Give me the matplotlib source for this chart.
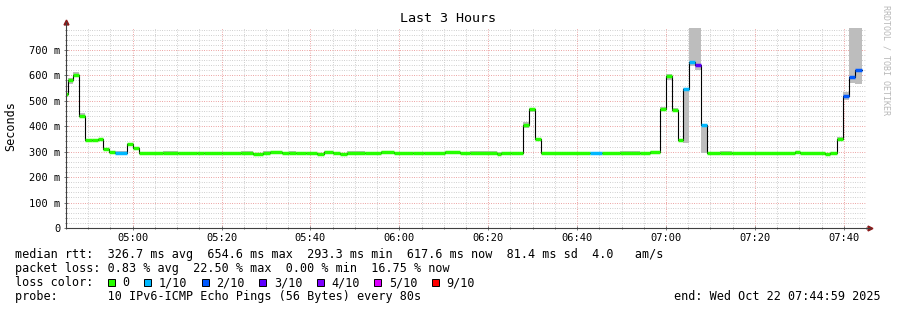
import numpy as np
import matplotlib
matplotlib.use("Agg")
import matplotlib.pyplot as plt
from matplotlib.ticker import MultipleLocator, FixedLocator
from matplotlib.patches import Rectangle

# minutes since 04:45:00, one entry per consolidated step
seg_start = [0.0, 0.34, 1.58, 2.93, 4.28, 5.85, 7.2, 8.33, 9.68, 11.03,
             13.73, 15.08, 16.43, 21.83, 25.2, 29.48, 31.05, 35.1, 39.38, 42.08,
             44.33, 45.9, 48.6, 50.18, 51.75, 54.0, 56.48, 58.05, 60.08, 61.65,
             63.23, 67.28, 70.88, 73.8, 78.08, 80.55, 85.28, 88.65, 90.9, 96.98,
             97.88, 100.13, 102.83, 104.18, 105.53, 106.88, 117.9, 120.6, 124.65, 129.15,
             131.4, 133.65, 135.0, 136.35, 137.7, 138.83, 140.18, 141.53, 142.88, 144.23,
             147.15, 149.85, 164.03, 165.15, 170.78, 171.9, 173.48, 174.83, 176.18, 177.53]
last_end = 179.1

# median rtt (ms)
median = [525, 580, 600, 440, 345, 344, 348, 312, 298, 294,
          330, 313, 294, 296, 293, 296, 293, 296, 295, 292,
          295, 297, 293, 296, 295, 295, 292, 297, 295, 292,
          296, 294, 298, 296, 293, 296, 298, 293, 296, 292,
          296, 294, 405, 467, 350, 295, 294, 295, 296, 293,
          297, 467, 598, 464, 346, 545, 651, 641, 404, 294,
          296, 294, 298, 296, 292, 296, 350, 518, 593, 621]

# lost pings out of 10
loss = [0, 0, 0, 0, 0, 0, 0, 0, 0, 1,
        0, 0, 0, 0, 0, 0, 0, 0, 0, 0,
        0, 0, 0, 0, 0, 0, 0, 0, 0, 0,
        0, 0, 0, 0, 0, 0, 0, 0, 0, 0,
        0, 0, 0, 0, 0, 0, 1, 0, 0, 0,
        0, 0, 0, 0, 0, 1, 1, 3, 1, 0,
        0, 0, 0, 0, 0, 0, 0, 2, 2, 2]

# smoke (spread of the pings), ms
smoke_lo = [520, 565, 594, 436, 342, 342, 344, 309, 295, 292,
            326, 310, 292, 293, 291, 294, 291, 293, 293, 290,
            293, 294, 291, 293, 293, 293, 290, 294, 293, 290,
            293, 292, 295, 293, 291, 293, 295, 291, 293, 290,
            293, 292, 392, 455, 346, 293, 292, 293, 293, 291,
            294, 458, 583, 458, 342, 335, 636, 620, 295, 292,
            293, 292, 295, 293, 290, 293, 346, 505, 568, 565]
smoke_hi = [530, 590, 615, 452, 350, 349, 351, 316, 301, 302,
            335, 320, 298, 302, 297, 300, 297, 299, 301, 296,
            302, 301, 297, 302, 299, 299, 296, 301, 299, 296,
            302, 298, 302, 299, 297, 300, 302, 297, 301, 298,
            300, 298, 415, 473, 355, 299, 298, 299, 301, 297,
            301, 476, 607, 470, 350, 550, 790, 790, 410, 298,
            301, 297, 301, 299, 296, 300, 357, 535, 790, 790]

x_ticks = [15, 35, 55, 75, 95, 115, 135, 155, 175]
x_labels = ['05:00', '05:20', '05:40', '06:00', '06:20', '06:40', '07:00', '07:20', '07:40']
y_ticks = [0, 100, 200, 300, 400, 500, 600, 700]
y_labels = ['0', '100 m', '200 m', '300 m', '400 m', '500 m', '600 m', '700 m']

loss_labels = ['0', '1/10', '2/10', '3/10', '4/10', '5/10', '9/10']
loss_colors = ['#26ff00', '#00b8ff', '#0059ff', '#5e00ff', '#7e00ff', '#dd00ff', '#ff0000']
loss_map = {0: '#26ff00', 1: '#00b8ff', 2: '#0059ff', 3: '#5e00ff', 4: '#7e00ff', 5: '#dd00ff', 9: '#ff0000'}

W, H = 897, 310
MONO = 'DejaVu Sans Mono'
plt.rcParams['font.family'] = MONO


def px(x, y):
    return x / W, 1 - y / H


fig = plt.figure(figsize=(W / 100, H / 100), dpi=100)
ax = fig.add_axes([66 / W, (H - 228) / H, 800 / W, 200 / H])

starts = np.array(seg_start)
ends = np.append(starts[1:], last_end)
widths = ends - starts
med = np.array(median)

# smoke
ax.bar(starts, np.array(smoke_hi) - np.array(smoke_lo), width=widths, bottom=smoke_lo,
       align='edge', color='#bdbdbd', linewidth=0, zorder=2)

# black median step
ax.step(np.append(starts, last_end), np.append(med, med[-1]), where='post',
        color='black', lw=0.8, zorder=3)

# colored median bars by loss
cols = [loss_map[l] for l in loss]
ax.hlines(med, starts, ends, colors=cols, lw=2.5, zorder=4, capstyle='butt')

ax.set_xlim(0, 180)
ax.set_ylim(0, 786)

ax.xaxis.set_major_locator(FixedLocator(x_ticks))
ax.set_xticklabels(x_labels)
ax.xaxis.set_minor_locator(MultipleLocator(5))
ax.yaxis.set_major_locator(FixedLocator(y_ticks))
ax.set_yticklabels(y_labels)
ax.yaxis.set_minor_locator(MultipleLocator(20))

ax.grid(which='minor', color='#c4c4c4', linestyle=(0, (0.8, 1.6)), lw=0.7, zorder=0)
ax.grid(which='major', color='#e88c8c', linestyle=(0, (0.8, 1.6)), lw=0.7, zorder=1)
ax.set_axisbelow(True)

ax.tick_params(which='both', direction='inout', color='#606060', width=0.6,
               labelsize=7.5, labelcolor='#000000')
ax.tick_params(which='major', length=3)
ax.tick_params(which='minor', length=2)
ax.tick_params(axis='y', pad=2.5)
ax.tick_params(axis='x', pad=2.2)

for s in ax.spines.values():
    s.set_visible(False)

# axis lines with arrows
ax.plot([0, 0], [0, 1.03], transform=ax.transAxes, clip_on=False, color='#404040', lw=0.8, zorder=5)
ax.plot([0, 1.005], [0, 0], transform=ax.transAxes, clip_on=False, color='#404040', lw=0.8, zorder=5)
ax.plot([0], [1.03], marker='^', ms=3.5, color='#8b1a1a', transform=ax.transAxes, clip_on=False)
ax.plot([1.005], [0], marker='>', ms=3.5, color='#8b1a1a', transform=ax.transAxes, clip_on=False)

# title, labels
fig.text(*px(448, 19), 'Last 3 Hours', ha='center', va='center', fontsize=9.6)
fig.text(*px(11, 126), 'Seconds', ha='center', va='center', rotation=90, fontsize=8.5)
fig.text(*px(886, 5), 'RRDTOOL / TOBI OETIKER', ha='center', va='top', rotation=270,
         fontsize=6, color='#b8b8b8')

fs = 8.5
fig.text(*px(15, 258), 'median rtt:  326.7 ms avg  654.6 ms max  293.3 ms min  617.6 ms now  81.4 ms sd  4.0   am/s',
         ha='left', va='baseline', fontsize=fs)
fig.text(*px(15, 272), 'packet loss: 0.83 % avg  22.50 % max  0.00 % min  16.75 % now',
         ha='left', va='baseline', fontsize=fs)
fig.text(*px(15, 286), 'loss color:', ha='left', va='baseline', fontsize=fs)
fig.text(*px(15, 300), 'probe:       10 IPv6-ICMP Echo Pings (56 Bytes) every 80s',
         ha='left', va='baseline', fontsize=fs)
fig.text(*px(881, 300), 'end: Wed Oct 22 07:44:59 2025', ha='right', va='baseline', fontsize=fs)

cw = 7.14
x = 108.0
for lab, c in zip(loss_labels, loss_colors):
    bx, by = px(x, 286)
    fig.add_artist(Rectangle((bx, by), 7 / W, 7 / H, transform=fig.transFigure,
                             facecolor=c, edgecolor='black', lw=0.7))
    fig.text(*px(x + 14.5, 286), lab, ha='left', va='baseline', fontsize=fs)
    x += 14.5 + len(lab) * cw + 14.5

fig.savefig('out.png', dpi=100)
